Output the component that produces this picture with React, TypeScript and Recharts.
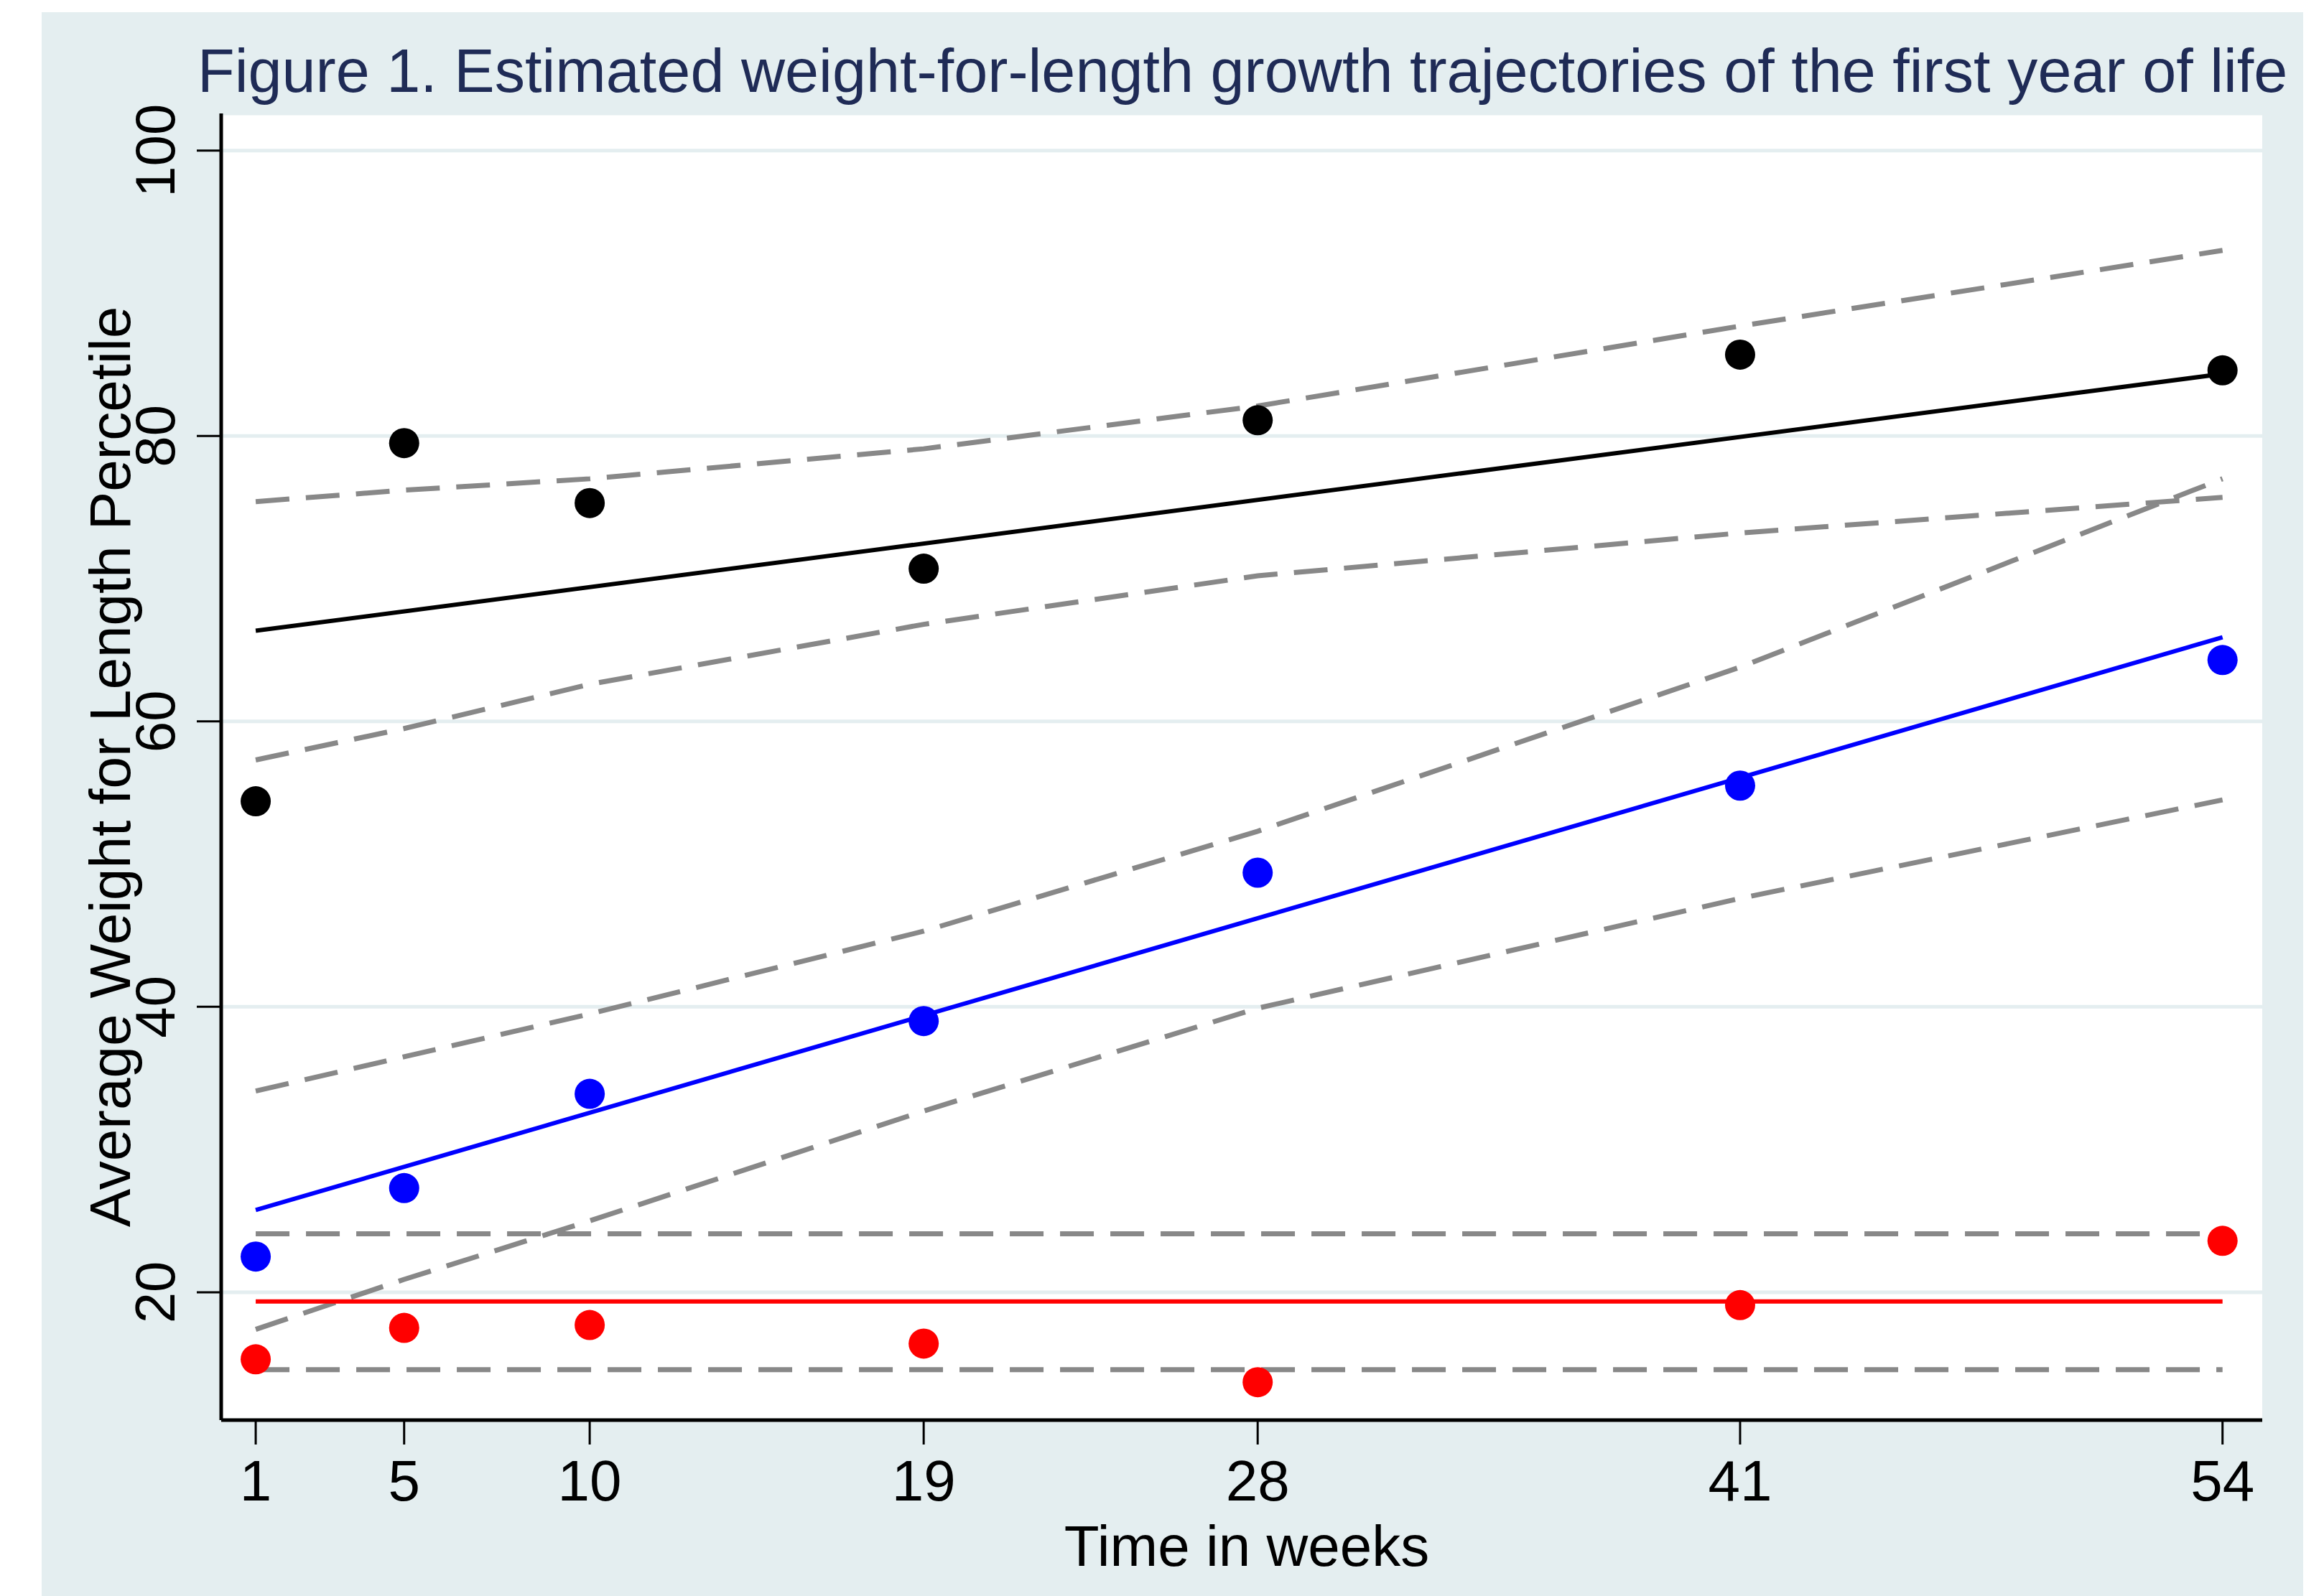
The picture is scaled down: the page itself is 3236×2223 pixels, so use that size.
import React from 'react';
import { ComposedChart, Line, XAxis, YAxis, CartesianGrid } from 'recharts';

const weeks = [1, 5, 10, 19, 28, 41, 54];
const xTicks = [1, 5, 10, 19, 28, 41, 54];
const yTicks = [20, 40, 60, 80, 100];

// observed means
const blackObs = [54.4, 79.5, 75.3, 70.7, 81.1, 85.7, 84.6];
const blueObs = [22.5, 27.3, 33.9, 39.0, 49.4, 55.5, 64.3];
const redObs = [15.3, 17.5, 17.7, 16.4, 13.7, 19.1, 23.6];

// confidence bands
const blackUpper = [75.4, 76.2, 77.0, 79.1, 82.1, 87.7, 93.0];
const blackLower = [57.3, 59.5, 62.6, 66.8, 70.2, 73.2, 75.7];
const blueUpper = [34.1, 36.5, 39.5, 45.3, 52.3, 63.8, 77.0];
const blueLower = [17.4, 20.9, 25.0, 32.7, 39.9, 47.6, 54.5];

// fitted lines: only first and last week
const blackFit = [66.35, 84.35];
const blueFit = [25.76, 65.9];
const redFit = [19.35, 19.35];
const redUpper = [24.1, 24.1];
const redLower = [14.57, 14.57];

const last = weeks.length - 1;
const data = weeks.map((week, i) => {
  const ends = (arr: number[]) => (i === 0 ? arr[0] : i === last ? arr[1] : null);
  return {
    week,
    blackObs: blackObs[i],
    blueObs: blueObs[i],
    redObs: redObs[i],
    blackUpper: blackUpper[i],
    blackLower: blackLower[i],
    blueUpper: blueUpper[i],
    blueLower: blueLower[i],
    blackFit: ends(blackFit),
    blueFit: ends(blueFit),
    redFit: ends(redFit),
    redUpper: ends(redUpper),
    redLower: ends(redLower),
  };
});

const BG = '#E4EEF0';
const GRAY = '#888888';
const dash = '47 23';

const YTick = (props: any) => {
  const { x, y, payload } = props;
  return (
    <text x={x} y={y} transform={`rotate(-90, ${x}, ${y})`} textAnchor="middle" fontSize={78} fill="#000">
      {payload.value}
    </text>
  );
};

const band = (key: string) => (
  <Line
    key={key}
    type="linear"
    dataKey={key}
    stroke={GRAY}
    strokeWidth={7}
    strokeDasharray={dash}
    dot={false}
    activeDot={false}
    connectNulls
    isAnimationActive={false}
  />
);

const fit = (key: string, color: string) => (
  <Line
    key={key}
    type="linear"
    dataKey={key}
    stroke={color}
    strokeWidth={6}
    dot={false}
    activeDot={false}
    connectNulls
    isAnimationActive={false}
  />
);

const points = (key: string, color: string) => (
  <Line
    key={key}
    dataKey={key}
    stroke="none"
    dot={{ r: 21, fill: color, stroke: 'none' }}
    activeDot={false}
    isAnimationActive={false}
  />
);

export default function App() {
  return (
    <div
      style={{
        position: 'absolute',
        left: 0,
        top: 0,
        width: 3236,
        height: 2223,
        background: '#fff',
        overflow: 'hidden',
        fontFamily: '"Liberation Sans", Arial, Helvetica, sans-serif',
      }}
    >
      <div style={{ position: 'absolute', left: 58, top: 17, width: 3149, height: 2206, background: BG }} />
      <div
        style={{
          position: 'absolute',
          left: 275,
          top: 57,
          fontSize: 84.6,
          lineHeight: '84px',
          color: '#1F2B56',
          whiteSpace: 'nowrap',
        }}
      >
        Figure 1. Estimated weight-for-length growth trajectories of the first year of life
      </div>
      <div style={{ position: 'absolute', left: 0, top: 0 }}>
        <ComposedChart
          width={3236}
          height={2223}
          data={data}
          margin={{ top: 158, right: 86, bottom: 45, left: 8 }}
        >
          <CartesianGrid horizontal vertical={false} stroke={BG} strokeWidth={5} fill="#fff" />
          <XAxis
            dataKey="week"
            type="number"
            domain={[0.07, 55.07]}
            ticks={xTicks}
            interval={0}
            allowDataOverflow
            height={200}
            axisLine={{ stroke: '#000', strokeWidth: 5 }}
            tickLine={{ stroke: '#000', strokeWidth: 3 }}
            tickSize={34}
            tickMargin={21}
            tick={{ fontSize: 80, fill: '#000' }}
          />
          <YAxis
            type="number"
            domain={[11.04, 102.6]}
            ticks={yTicks}
            interval={0}
            allowDataOverflow
            width={300}
            axisLine={{ stroke: '#000', strokeWidth: 5 }}
            tickLine={{ stroke: '#000', strokeWidth: 3 }}
            tickSize={34}
            tickMargin={31}
            tick={<YTick />}
          />
          {band('blackUpper')}
          {band('blackLower')}
          {band('blueUpper')}
          {band('blueLower')}
          {band('redUpper')}
          {band('redLower')}
          {fit('blackFit', '#000')}
          {fit('blueFit', '#0000FF')}
          {fit('redFit', '#FF0000')}
          {points('blackObs', '#000')}
          {points('blueObs', '#0000FF')}
          {points('redObs', '#FF0000')}
        </ComposedChart>
      </div>
      <div
        style={{
          position: 'absolute',
          left: 1236,
          top: 2114,
          width: 1000,
          textAlign: 'center',
          fontSize: 80,
          lineHeight: '80px',
          color: '#000',
          whiteSpace: 'nowrap',
        }}
      >
        Time in weeks
      </div>
      <div
        style={{
          position: 'absolute',
          left: 154 - 800,
          top: 1068 - 40,
          width: 1600,
          height: 80,
          textAlign: 'center',
          fontSize: 80,
          lineHeight: '80px',
          color: '#000',
          whiteSpace: 'nowrap',
          transform: 'rotate(-90deg)',
        }}
      >
        Average Weight for Length Percetile
      </div>
    </div>
  );
}
